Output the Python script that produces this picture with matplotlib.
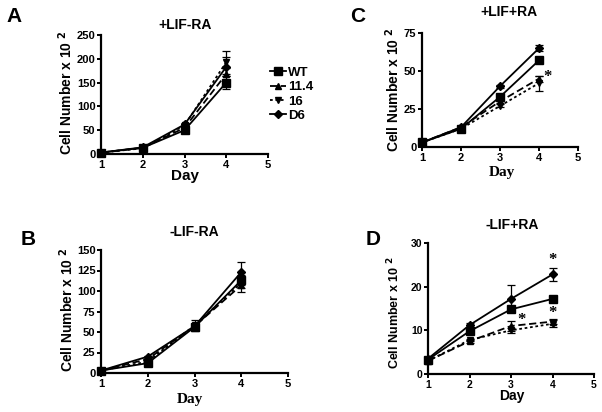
import matplotlib
matplotlib.use("Agg")
import matplotlib.pyplot as plt
from matplotlib.lines import Line2D

plt.rcParams['font.family'] = ['Liberation Sans', 'DejaVu Sans']
plt.rcParams['font.weight'] = 'bold'

days = [1, 2, 3, 4]
series_names = ["WT", "11.4", "16", "D6"]

# Panel A: +LIF-RA
A_wt = [3, 13, 50, 150];   A_wt_err = [1, 2, 4, 14]
A_114 = [3, 13, 55, 168];  A_114_err = [1, 1, 4, 12]
A_16 = [3, 12, 60, 193];   A_16_err = [1, 1, 3, 24]
A_d6 = [3, 14, 62, 183];   A_d6_err = [1, 1, 3, 20]

# Panel B: -LIF-RA
B_wt = [3, 12, 56, 113];   B_wt_err = [1, 1, 2, 6]
B_114 = [3, 17, 57, 107];  B_114_err = [1, 1, 2, 8]
B_16 = [3, 14, 58, 110];   B_16_err = [1, 1, 7, 6]
B_d6 = [3, 20, 57, 123];   B_d6_err = [1, 1, 2, 12]

# Panel C: +LIF+RA
C_wt = [3, 12, 33, 57];    C_wt_err = [0.5, 0.5, 1, 1]
C_114 = [3, 13, 30, 45];   C_114_err = [0.5, 0.5, 1, 2]
C_16 = [3, 12, 27, 42];    C_16_err = [0.5, 0.5, 1, 5]
C_d6 = [3, 13, 40, 65];    C_d6_err = [0.5, 0.5, 1, 2]

# Panel D: -LIF+RA
D_wt = [3.3, 9.8, 14.8, 17.2];   D_wt_err = [0.3, 0.4, 0.5, 0.5]
D_114 = [3.0, 7.5, 11.0, 12.0];  D_114_err = [0.3, 0.3, 1.2, 0.6]
D_16 = [3.0, 7.8, 10.0, 11.5];   D_16_err = [0.3, 0.3, 0.5, 0.8]
D_d6 = [3.5, 11.2, 17.2, 22.8];  D_d6_err = [0.3, 0.4, 3.1, 1.5]

W, H = 602, 412
fig = plt.figure(figsize=(W / 100, H / 100), dpi=100)


def px(x, y):
    return x / W, 1 - y / H


def make_ax(l, t, r, b, lsize=8):
    ax = fig.add_axes([l / W, 1 - b / H, (r - l) / W, (b - t) / H])
    for s in ("top", "right"):
        ax.spines[s].set_visible(False)
    for s in ("left", "bottom"):
        ax.spines[s].set_linewidth(1.6)
    ax.tick_params(width=1.4, length=3, labelsize=lsize, pad=1)
    ax.set_xlim(1, 5)
    ax.set_xticks([1, 2, 3, 4, 5])
    return ax


styles = [
    dict(marker='s', ls='-', ms=5.5),
    dict(marker='^', ls=(0, (4, 2)), ms=5),
    dict(marker='v', ls=(0, (1.5, 1.5)), ms=5),
    dict(marker='D', ls='-', ms=4),
]


def draw(ax, data):
    for (vals, errs), st, name in zip(data, styles, series_names):
        ax.errorbar(days, vals, yerr=errs, color='black', lw=1.3,
                    capsize=3, elinewidth=0.9, capthick=0.9,
                    marker=st['marker'], ms=st['ms'], ls=st['ls'],
                    label=name, clip_on=False)


# Panel A
axA = make_ax(101, 35, 268, 154)
axA.set_ylim(0, 250)
axA.set_yticks([0, 50, 100, 150, 200, 250])
draw(axA, [(A_wt, A_wt_err), (A_114, A_114_err), (A_16, A_16_err), (A_d6, A_d6_err)])
handles = [Line2D([], [], color='black', lw=1.3, marker=st['marker'], ms=st['ms'], ls=st['ls'])
           for st in styles]
fig.legend(handles, series_names, loc='upper left', bbox_to_anchor=px(258, 55),
           frameon=False, handlelength=1.2, handletextpad=0.2, labelspacing=0.15,
           prop={'weight': 'bold', 'size': 9.5})

# Panel C
axC = make_ax(422, 33, 578, 147)
axC.set_ylim(0, 75)
axC.set_yticks([0, 25, 50, 75])
draw(axC, [(C_wt, C_wt_err), (C_114, C_114_err), (C_16, C_16_err), (C_d6, C_d6_err)])
axC.text(4.22, 46, '*', fontsize=12, family='Liberation Serif', ha='center', va='center')

# Panel B
axB = make_ax(101, 250, 288, 373)
axB.set_ylim(0, 150)
axB.set_yticks([0, 25, 50, 75, 100, 125, 150])
draw(axB, [(B_wt, B_wt_err), (B_114, B_114_err), (B_16, B_16_err), (B_d6, B_d6_err)])

# Panel D
axD = make_ax(428, 243, 594, 374, lsize=7.5)
axD.set_ylim(0, 30)
axD.set_yticks([0, 10, 20, 30])
draw(axD, [(D_wt, D_wt_err), (D_114, D_114_err), (D_16, D_16_err), (D_d6, D_d6_err)])
for sx, sy in [(3.25, 12.4), (4.0, 26.0), (4.0, 14.0)]:
    axD.text(sx, sy, '*', fontsize=12, family='Liberation Serif', ha='center', va='center')

# Panel letters
for letter, (x, y) in {"A": (14, 16), "C": (358, 17), "B": (28, 240), "D": (373, 240)}.items():
    fig.text(*px(x, y), letter, fontsize=15, fontweight='bold', ha='center', va='center')

# Titles
for t, (x, y) in {"+LIF-RA": (185, 25), "+LIF+RA": (509, 12),
                  "-LIF-RA": (194, 232), "-LIF+RA": (512, 225)}.items():
    fig.text(*px(x, y), t, fontsize=10, fontweight='bold', ha='center', va='center')

# Day labels
fig.text(*px(185, 176), "Day", fontsize=11, fontweight='bold', ha='center', va='center')
fig.text(*px(502, 173), "Day", fontsize=11, fontweight='bold', ha='center', va='center',
         family='Liberation Serif')
fig.text(*px(190, 400), "Day", fontsize=11, fontweight='bold', ha='center', va='center',
         family='Liberation Serif')
fig.text(*px(512, 396), "Day", fontsize=10, fontweight='bold', ha='center', va='center')

# Y labels
ylab = "Cell Number x 10 $^{2}$"
fig.text(*px(66, 93), ylab, fontsize=10, fontweight='bold', rotation=90, ha='center', va='center')
fig.text(*px(393, 90), ylab, fontsize=10, fontweight='bold', rotation=90, ha='center', va='center')
fig.text(*px(67, 310), ylab, fontsize=10, fontweight='bold', rotation=90, ha='center', va='center')
fig.text(*px(394, 313), ylab, fontsize=9, fontweight='bold', rotation=90, ha='center', va='center')

fig.savefig("out.png", dpi=100)
